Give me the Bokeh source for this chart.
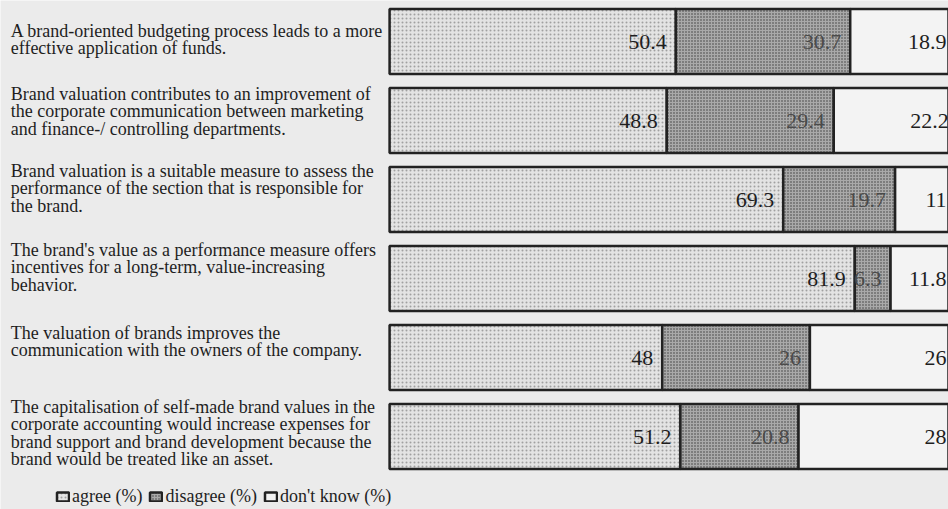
from bokeh.plotting import figure
from bokeh.models import ColumnDataSource, Legend, LegendItem, Range1d
from bokeh.core.properties import value
from bokeh.embed import file_html
from bokeh.resources import INLINE

statements = [
    "A brand-oriented budgeting process leads to a more\neffective application of funds.",
    "Brand valuation contributes to an improvement of\nthe corporate communication between marketing\nand finance-/ controlling departments.",
    "Brand valuation is a suitable measure to assess the\nperformance of the section that is responsible for\nthe brand.",
    "The brand's value as a performance measure offers\nincentives for a long-term, value-increasing\nbehavior.",
    "The valuation of brands improves the\ncommunication with the owners of the company.",
    "The capitalisation of self-made brand values in the\ncorporate accounting would increase expenses for\nbrand support and brand development because the\nbrand would be treated like an asset.",
]
agree = [50.4, 48.8, 69.3, 81.9, 48, 51.2]
disagree = [30.7, 29.4, 19.7, 6.3, 26, 20.8]
dont_know = [18.9, 22.2, 11, 11.8, 26, 28]
series_names = ["agree (%)", "disagree (%)", "don't know (%)"]

# layout / style (not data)
label_offsets = [12, -4, -6, -6, -2, -7]
BAR_H = 0.82
FONT = "Liberation Serif"
BG = "#ebebeb"

n = len(statements)
ys = list(range(n))
d_end = [a + d for a, d in zip(agree, disagree)]
k_end = [a + d + k for a, d, k in zip(agree, disagree, dont_know)]

src = ColumnDataSource(dict(
    y=ys, a0=[0] * n, a1=agree, d0=agree, d1=d_end, k0=d_end, k1=k_end,
    at=[f"{v:g}" for v in agree], dt=[f"{v:g}" for v in disagree], kt=[f"{v:g}" for v in dont_know],
    label=statements, ltop=[y - BAR_H / 2 for y in ys], loff=label_offsets,
))

p = figure(width=948, height=509, output_backend="svg", toolbar_location=None,
           x_range=Range1d(-68.5, 98.4), y_range=Range1d(5.924, -0.519),
           min_border=0, outline_line_color=None,
           background_fill_color=BG, border_fill_color=BG)
p.axis.visible = False
p.grid.visible = False

line_kw = dict(line_color="#222222", line_width=2.5)
ra = p.hbar(y="y", left="a0", right="a1", height=BAR_H, source=src,
            fill_color="#e3e3e3", hatch_pattern="dot", hatch_color="#a0a0a0",
            hatch_scale=4, hatch_weight=1, **line_kw)
rd = p.hbar(y="y", left="d0", right="d1", height=BAR_H, source=src,
            fill_color="#a9a9a9", hatch_pattern="dot", hatch_color="#3a3a3a",
            hatch_scale=3, hatch_weight=1.4, **line_kw)
rk = p.hbar(y="y", left="k0", right="k1", height=BAR_H, source=src,
            fill_color="#f3f3f3", **line_kw)

tkw = dict(text_font=value(FONT), text_font_size="22px", text_align="right",
           text_baseline="middle", source=src)
p.text(x="a1", y="y", text="at", text_color="#1e1e1e", x_offset=-9, **tkw)
p.text(x="d1", y="y", text="dt", text_color="#4a4a4a", x_offset=-9, **tkw)
p.text(x="k1", y="y", text="kt", text_color="#1e1e1e", x_offset=-11, **tkw)

p.text(x=-66.7, y="ltop", text="label", source=src, y_offset="loff",
       text_font=value(FONT), text_font_size="18px", text_align="left",
       text_baseline="top", text_line_height=0.86, text_color="#1e1e1e")

legend = Legend(items=[LegendItem(label=series_names[0], renderers=[ra]),
                       LegendItem(label=series_names[1], renderers=[rd]),
                       LegendItem(label=series_names[2], renderers=[rk])],
                location=(55, 2), orientation="horizontal",
                background_fill_alpha=0, border_line_color=None,
                label_text_font=FONT, label_text_font_size="18px",
                label_text_color="#1e1e1e",
                glyph_width=15, glyph_height=11, label_standoff=2, spacing=6,
                padding=0, margin=0)
p.add_layout(legend)

open("out.html", "w").write(file_html(p, INLINE))
